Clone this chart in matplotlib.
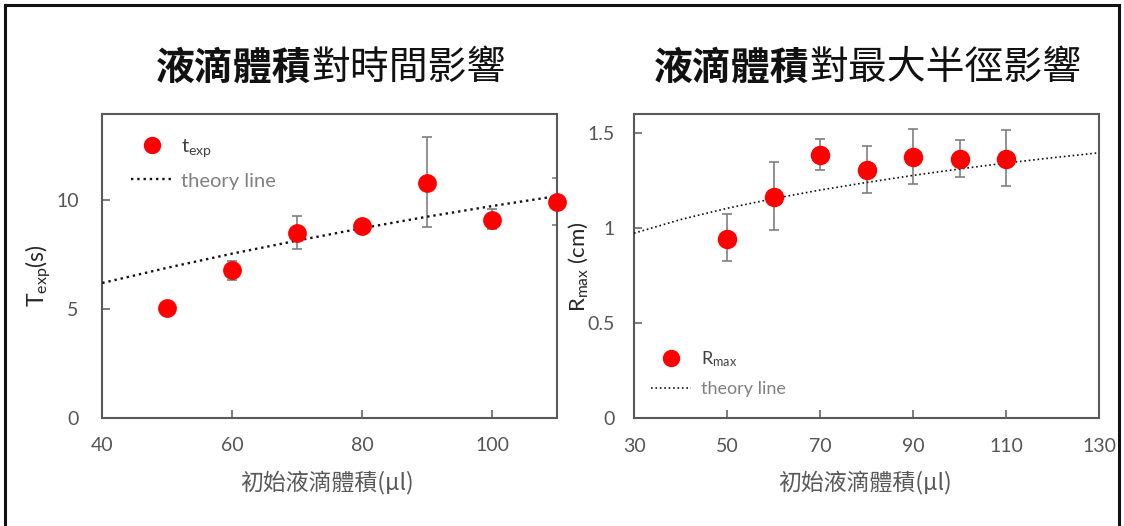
import matplotlib
matplotlib.use("Agg")
import matplotlib.pyplot as plt
from matplotlib.lines import Line2D

plt.rcParams['font.family'] = ['Lato', 'DejaVu Sans']
plt.rcParams['mathtext.fontset'] = 'custom'
plt.rcParams['mathtext.rm'] = 'Lato'
plt.rcParams['mathtext.it'] = 'Lato:italic'
plt.rcParams['mathtext.bf'] = 'Lato:bold'

CJK = ['Noto Sans CJK TC', 'DejaVu Sans']

# ---------------- data ----------------
vol1 = [50, 60, 70, 80, 90, 100, 110]
t_exp = [5.03, 6.79, 8.52, 8.84, 10.81, 9.11, 9.91]
t_lo = [4.98, 6.33, 7.77, 8.78, 8.78, 8.67, 8.85]
t_hi = [5.08, 7.22, 9.30, 8.90, 12.91, 9.59, 11.04]
theory1_x = [40, 50, 60, 70, 80, 90, 100, 110]
theory1_y = [6.2, 6.9, 7.55, 8.15, 8.72, 9.25, 9.74, 10.2]

vol2 = [50, 60, 70, 80, 90, 100, 110]
r_max = [0.945, 1.164, 1.387, 1.305, 1.375, 1.364, 1.363]
r_lo = [0.825, 0.992, 1.305, 1.187, 1.234, 1.269, 1.223]
r_hi = [1.072, 1.345, 1.469, 1.430, 1.521, 1.465, 1.514]
theory2_x = [30, 40, 50, 60, 70, 80, 90, 100, 110, 120, 130]
theory2_y = [0.973, 1.045, 1.104, 1.155, 1.2, 1.24, 1.277, 1.311, 1.342, 1.37, 1.396]

title1_bold, title1_reg = "液滴體積", "對時間影響"
title2_bold, title2_reg = "液滴體積", "對最大半徑影響"
xlabel = "初始液滴體積(µl)"
ylabel1 = r"T$_{\mathrm{exp}}$(s)"
ylabel2 = r"R$_{\mathrm{max}}$ (cm)"
leg1 = r"t$_{\mathrm{exp}}$"
leg2 = r"R$_{\mathrm{max}}$"
theory_label = "theory line"

x1_ticks = [40, 60, 80, 100]
y1_ticks = [0, 5, 10]
x2_ticks = [30, 50, 70, 90, 110, 130]
y2_ticks = [0, 0.5, 1, 1.5]
y2_ticklabels = ['0', '0.5', '1', '1.5']

# ---------------- figure ----------------
W, H = 1124, 526
fig = plt.figure(figsize=(W / 100, H / 100), dpi=100)
fig.patch.set_facecolor('white')

def fx(px):
    return px / W

def fy(py):
    return 1 - py / H

ax1 = fig.add_axes([fx(102.3), fy(417.7), fx(557) - fx(102.3), fy(113.5) - fy(417.7)])
ax2 = fig.add_axes([fx(634), fy(418.3), fx(1099) - fx(634), fy(114) - fy(418.3)])

SP = '#595959'
RED = '#ff0000'
ERR = '#7f7f7f'

for ax in (ax1, ax2):
    for s in ax.spines.values():
        s.set_color(SP)
        s.set_linewidth(1.5)
    ax.tick_params(direction='in', length=5.5, width=1.1, color=SP,
                   labelcolor='#555555', labelsize=14)

# axes 1
ax1.errorbar(vol1, t_exp,
             yerr=[[v - l for v, l in zip(t_exp, t_lo)], [h - v for v, h in zip(t_exp, t_hi)]],
             fmt='none', ecolor=ERR, elinewidth=1.2, capsize=3.3, capthick=1.2, zorder=2)
ax1.plot(theory1_x, theory1_y, linestyle=':', color='#111111', lw=1.7, zorder=3)
ax1.plot(vol1, t_exp, 'o', color=RED, markersize=12.5, zorder=4, clip_on=False)
ax1.set_xlim(40, 110)
ax1.set_ylim(0, 14)
ax1.set_xticks(x1_ticks)
ax1.set_yticks(y1_ticks)
ax1.tick_params(axis='y', pad=17)
ax1.tick_params(axis='x', pad=14)

# axes 2
ax2.errorbar(vol2, r_max,
             yerr=[[v - l for v, l in zip(r_max, r_lo)], [h - v for v, h in zip(r_max, r_hi)]],
             fmt='none', ecolor=ERR, elinewidth=1.2, capsize=3.3, capthick=1.2, zorder=2)
ax2.plot(theory2_x, theory2_y, linestyle=':', color='#111111', lw=1.2, zorder=3)
ax2.plot(vol2, r_max, 'o', color=RED, markersize=13, zorder=4, clip_on=False)
ax2.set_xlim(30, 130)
ax2.set_ylim(0, 1.6)
ax2.set_xticks(x2_ticks)
ax2.set_yticks(y2_ticks)
ax2.set_yticklabels(y2_ticklabels)
ax2.tick_params(axis='y', pad=14)
ax2.tick_params(axis='x', pad=14)

# legends
h1 = [Line2D([], [], marker='o', ls='none', color=RED, markersize=11.5),
      Line2D([], [], ls=':', color='#111111', lw=1.7)]
lg1 = fig.legend(h1, [leg1, theory_label], loc='center left',
                 bbox_to_anchor=(fx(131), fy(163.5)), frameon=False,
                 fontsize=14.5, handlelength=2.1, handletextpad=0.4,
                 labelspacing=0.65, borderpad=0, borderaxespad=0)
for t, c in zip(lg1.get_texts(), ['#404040', '#808080']):
    t.set_color(c)

h2 = [Line2D([], [], marker='o', ls='none', color=RED, markersize=11.5),
      Line2D([], [], ls=':', color='#111111', lw=1.2)]
lg2 = fig.legend(h2, [leg2, theory_label], loc='center left',
                 bbox_to_anchor=(fx(651), fy(373)), frameon=False,
                 fontsize=13, handlelength=2.2, handletextpad=0.55,
                 labelspacing=0.7, borderpad=0, borderaxespad=0)
for t, c in zip(lg2.get_texts(), ['#404040', '#808080']):
    t.set_color(c)

# axis labels
fig.text(fx(38), fy(276), ylabel1, rotation=90, ha='center', va='center',
         fontsize=16.5, color='#262626')
fig.text(fx(578), fy(267), ylabel2, rotation=90, ha='center', va='center',
         fontsize=16, color='#262626')
fig.text(fx(327.5), fy(483), xlabel, ha='center', va='center', fontsize=16.5,
         color='#595959', family=CJK)
fig.text(fx(865.5), fy(483), xlabel, ha='center', va='center', fontsize=16.5,
         color='#595959', family=CJK)

# titles
TY = fy(68)
fig.text(fx(311), TY, title1_bold, ha='right', va='center', fontsize=28,
         fontweight='bold', family=CJK, color='#111111')
fig.text(fx(311), TY, title1_reg, ha='left', va='center', fontsize=28,
         fontweight='normal', family=CJK, color='#111111')
fig.text(fx(809), TY, title2_bold, ha='right', va='center', fontsize=28,
         fontweight='bold', family=CJK, color='#111111')
fig.text(fx(809), TY, title2_reg, ha='left', va='center', fontsize=28,
         fontweight='normal', family=CJK, color='#111111')

# outer frame (left, top, right)
frame_kw = dict(color='#111111', lw=2.2, transform=fig.transFigure)
fig.add_artist(Line2D([fx(5), fx(5)], [fy(5), 0], **frame_kw))
fig.add_artist(Line2D([fx(5), fx(1119)], [fy(5), fy(5)], **frame_kw))
fig.add_artist(Line2D([fx(1119), fx(1119)], [fy(5), 0], **frame_kw))

fig.savefig('out.png', dpi=100)
